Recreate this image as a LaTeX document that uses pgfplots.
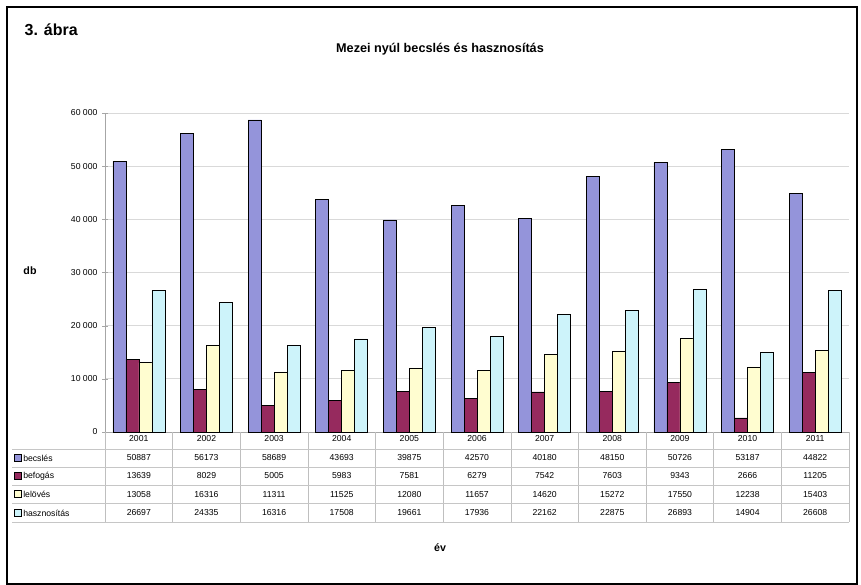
\documentclass[border=0pt]{standalone}
\usepackage{fontspec}
\setmainfont{Liberation Sans}
\usepackage{pgfplots}
\usepackage{pgfplotstable}
\pgfplotsset{compat=1.18}
\definecolor{cBec}{HTML}{9494DA}
\definecolor{cBef}{HTML}{962A5E}
\definecolor{cLel}{HTML}{FFFDD0}
\definecolor{cHas}{HTML}{CDF3FA}

\pgfplotstableread{
ev   bec   bef   lel   has
2001 50887 13639 13058 26697
2002 56173 8029  16316 24335
2003 58689 5005  11311 16316
2004 43693 5983  11525 17508
2005 39875 7581  12080 19661
2006 42570 6279  11657 17936
2007 40180 7542  14620 22162
2008 48150 7603  15272 22875
2009 50726 9343  17550 26893
2010 53187 2666  12238 14904
2011 44822 11205 15403 26608
}\data

\newcommand{\cell}[1]{\pgfplotstablegetelem{\ticknum}{#1}\of\data\pgfplotsretval}

\begin{document}
\begin{tikzpicture}
\begin{axis}[
  at={(78.75pt,114.75pt)},anchor=south west,
  scale only axis,width=558pt,height=239.25pt,
  ybar=0pt,bar width=9.75pt,
  xmin=0.5,xmax=11.5,ymin=0,ymax=60000,
  xtick={1,...,11},
  xtick style={draw=none},
  xticklabel={\cell{ev}\\\cell{bec}\\\cell{bef}\\\cell{lel}\\\cell{has}},
  xticklabel style={font=\fontsize{6.5}{13.9}\selectfont,align=center,anchor=north,yshift=3pt},
  ytick={0,10000,...,60000},
  scaled y ticks=false,
  yticklabel style={font=\fontsize{6.5}{8}\selectfont,/pgf/number format/1000 sep={\ },/pgf/number format/assume math mode=true},
  axis lines=left,axis line style={gray!70,-},
  ytick style={gray!70},
  ymajorgrids,grid style={gray!30,line width=0.6pt},
  clip=false,
]
\addplot[fill=cBec,draw=black,line width=0.4pt] table[x expr=\coordindex+1,y=bec]{\data};
\addplot[fill=cBef,draw=black,line width=0.4pt] table[x expr=\coordindex+1,y=bef]{\data};
\addplot[fill=cLel,draw=black,line width=0.4pt] table[x expr=\coordindex+1,y=lel]{\data};
\addplot[fill=cHas,draw=black,line width=0.4pt] table[x expr=\coordindex+1,y=has]{\data};
\end{axis}

\begin{scope}[x=0.75pt,y=0.75pt]
\useasboundingbox (0,0) rectangle (861,585);
\draw[black,line width=1.2pt] (7,1) rectangle (857,578);

\node[font=\fontsize{12}{14}\selectfont\bfseries,anchor=west] at (20,555) {3. ábra};
\node[font=\fontsize{9.5}{11}\selectfont\bfseries] at (440,536) {Mezei nyúl becslés és hasznosítás};
\node[font=\fontsize{8}{10}\selectfont\bfseries] at (30,314) {db};
\node[font=\fontsize{8}{10}\selectfont\bfseries] at (440,37) {év};

% table grid
\foreach \k in {0,...,11} {
  \draw[gray!50,line width=0.5pt] ({105+\k*67.64},153) -- ({105+\k*67.64},63);
}
\foreach \yy in {136,118,100,82,63} {
  \draw[gray!45,line width=0.5pt] (12,\yy) -- (849,\yy);
}
% row labels with keys
\foreach \yy/\c/\t in {127/cBec/becslés,109/cBef/befogás,91/cLel/lelövés,72/cHas/hasznosítás} {
  \draw[fill=\c,draw=black,line width=0.4pt] (14,\yy-3.5) rectangle (21,\yy+3.5);
  \node[anchor=west,font=\fontsize{6.5}{8}\selectfont,inner sep=0pt] at (23,\yy) {\t};
}
\end{scope}
\end{tikzpicture}
\end{document}
